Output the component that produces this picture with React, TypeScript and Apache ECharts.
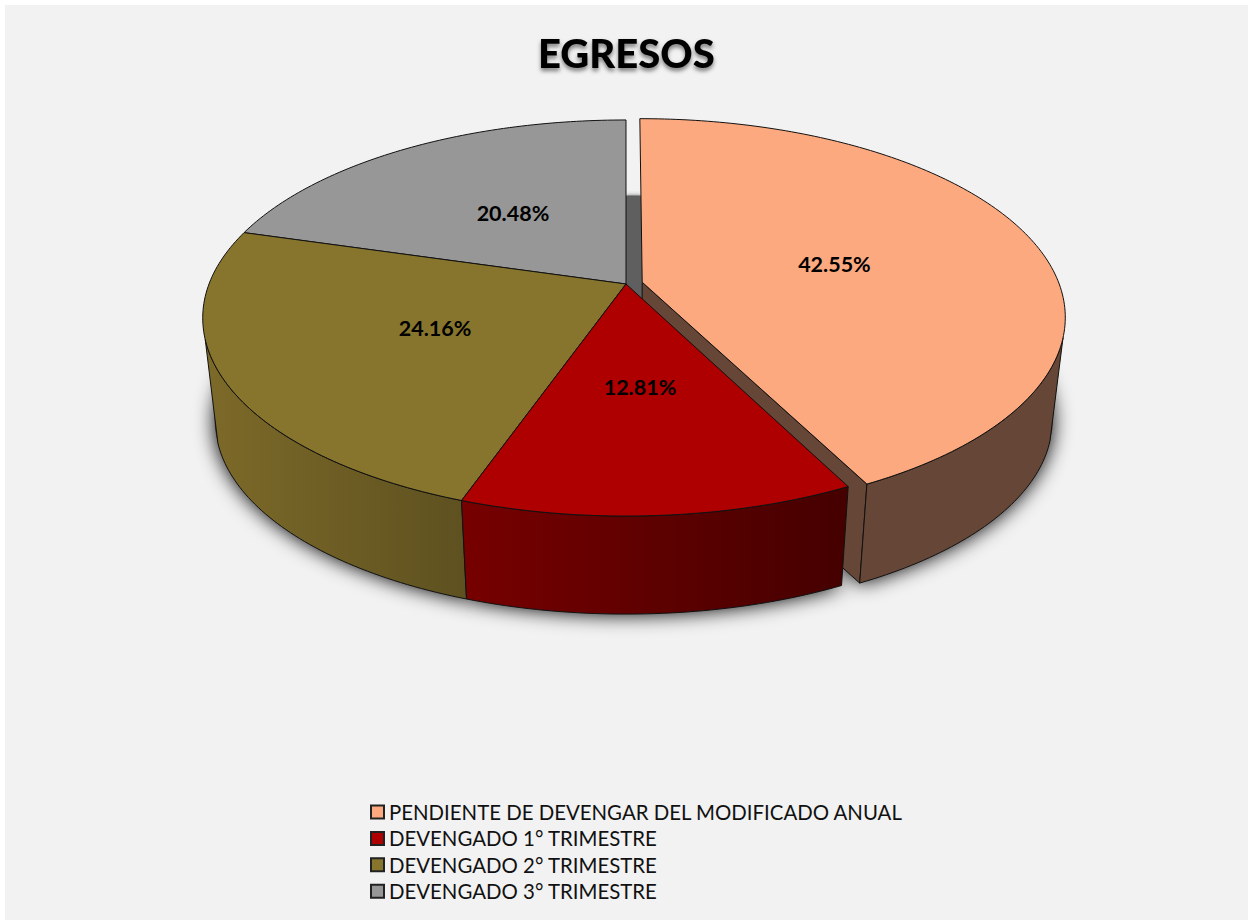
import React, { useEffect, useRef } from "react";
import * as echarts from "echarts";

const categories = [
  "PENDIENTE DE DEVENGAR DEL MODIFICADO ANUAL",
  "DEVENGADO 1° TRIMESTRE",
  "DEVENGADO 2° TRIMESTRE",
  "DEVENGADO 3° TRIMESTRE",
];
const shares = [42.55, 12.81, 24.16, 20.48];
const labels = ["42.55%", "12.81%", "24.16%", "20.48%"];
const topColors = ["#fda97f", "#ae0000", "#87752d", "#979797"];
const wallFrom = ["#664636", "#770000", "#7d6a29", "#5f5f5f"];
const wallTo = ["#664636", "#450000", "#5e5120", "#5f5f5f"];
const explode = [0.04, 0, 0, 0];
const labelNudge = [[-6, 4], [-1, -2], [2, -2], [4, 1]];

// perspective model of the pie's plane
const CX = 626;
const CY = 284;
const A = 417;
const B = 192.2;
const K = 0.1717;
const LOWER_CY = 389;
const LOWER_S = 0.97;
const SHADOW_CY = 386;
const SHADOW_S = 0.972;
const WALL_START = 106;
const WALL_END = 254;
const rad = (d: number) => (d * Math.PI) / 180;

type P = [number, number];
function plane(u: number, v: number, s: number, cy: number): P {
  const q = 1 - K * v;
  return [CX + (s * A * u) / q, cy + (s * B * v) / q];
}
function project(u: number, v: number, lower = false): P {
  return lower ? plane(u, v, LOWER_S, LOWER_CY) : plane(u, v, 1, CY);
}
function sliceRange(i: number): [number, number] {
  const total = shares.reduce((a, b) => a + b, 0);
  let acc = 0;
  for (let k = 0; k < i; k++) acc += shares[k];
  return [(acc / total) * 360, ((acc + shares[i]) / total) * 360];
}
function offset(i: number): P {
  const [a0, a1] = sliceRange(i);
  const m = rad((a0 + a1) / 2);
  return [explode[i] * Math.sin(m), -explode[i] * Math.cos(m)];
}
function rim(i: number, deg: number, lower = false): P {
  const [du, dv] = offset(i);
  return project(du + Math.sin(rad(deg)), dv - Math.cos(rad(deg)), lower);
}
function arc(i: number, a0: number, a1: number, lower = false): P[] {
  const out: P[] = [];
  const n = Math.max(2, Math.ceil(Math.abs(a1 - a0)));
  for (let j = 0; j <= n; j++) out.push(rim(i, a0 + ((a1 - a0) * j) / n, lower));
  return out;
}

const LINE = "#111111";
function poly(points: P[], fill: any, stroke = LINE, lineWidth = 1) {
  return {
    type: "polygon",
    shape: { points },
    style: { fill, stroke, lineWidth, lineJoin: "round" },
  };
}

function renderSlice(i: number) {
  return () => {
    const [a0, a1] = sliceRange(i);
    const [du, dv] = offset(i);
    const children: any[] = [];
    if (explode[i] > 0) {
      // the cut face visible through the gap
      children.push(
        poly(
          [project(du, dv), rim(i, a1), rim(i, a1, true), project(du, dv, true)],
          wallFrom[i],
        ),
      );
    }
    const w0 = Math.max(a0, WALL_START);
    const w1 = Math.min(a1, WALL_END);
    if (w1 > w0) {
      children.push(
        poly(
          [...arc(i, w0, w1), ...arc(i, w1, w0, true)],
          new echarts.graphic.LinearGradient(0, 0, 1, 0, [
            { offset: 0, color: wallFrom[i] },
            { offset: 1, color: wallTo[i] },
          ]),
        ),
      );
    }
    children.push(poly([project(du, dv), ...arc(i, a0, a1)], topColors[i]));
    const m = rad((a0 + a1) / 2);
    const [lx, ly] = project(du + 0.5 * Math.sin(m), dv - 0.5 * Math.cos(m));
    children.push({
      type: "text",
      style: {
        text: labels[i],
        x: lx + labelNudge[i][0],
        y: ly + labelNudge[i][1],
        align: "center",
        verticalAlign: "middle",
        fill: "#000",
        font: "bold 21.5px Lato",
      },
    });
    return { type: "group", children };
  };
}

function renderShadow() {
  const wedges = categories.map((_, i) => {
    const [a0, a1] = sliceRange(i);
    const [du, dv] = offset(i);
    const pts: P[] = [plane(du, dv, SHADOW_S, SHADOW_CY)];
    for (let d = a0; d <= a1 + 0.001; d += (a1 - a0) / 40) {
      pts.push(
        plane(du + Math.sin(rad(d)), dv - Math.cos(rad(d)), SHADOW_S, SHADOW_CY),
      );
    }
    return {
      type: "polygon",
      shape: { points: pts },
      style: {
        fill: "#333",
        shadowColor: "rgba(0,0,0,1)",
        shadowBlur: 20,
        shadowOffsetY: 3,
      },
    };
  });
  const gap = [project(0, -0.5), project(0.04, -0.5), project(0.04, 0.1), project(0, 0.1)];
  return {
    type: "group",
    children: [
      ...wedges,
      {
        type: "polygon",
        shape: { points: gap },
        style: {
          fill: "#5f5f5f",
          shadowColor: "rgba(60,60,60,0.7)",
          shadowBlur: 4,
        },
      },
    ],
  };
}

const drawOrder = [0, 3, 2, 1];

export default function App() {
  const ref = useRef<HTMLDivElement>(null);
  useEffect(() => {
    document.body.style.margin = "0";
    const chart = echarts.init(ref.current!, undefined, { renderer: "svg" });
    chart.setOption({
      animation: false,
      backgroundColor: "#ffffff",
      graphic: [
        {
          type: "rect",
          z: -10,
          shape: { x: 5, y: 5, width: 1243, height: 915 },
          style: { fill: "#f2f2f2" },
        },
      ],
      title: {
        text: "EGRESOS",
        left: 533,
        top: 28,
        textStyle: {
          fontFamily: "Lato",
          fontWeight: 900,
          fontSize: 40,
          color: "#000",
          textShadowColor: "rgba(0,0,0,0.5)",
          textShadowBlur: 4,
          textShadowOffsetY: 3,
        },
      },
      legend: {
        orient: "vertical",
        left: 365,
        top: 797,
        itemWidth: 13,
        itemHeight: 13,
        itemGap: 6.4,
        icon: "rect",
        selectedMode: false,
        data: categories,
        textStyle: { fontFamily: "Lato", fontSize: 20.4, color: "#111" },
      },
      series: [
        {
          type: "custom",
          name: "sombra",
          coordinateSystem: "none",
          z: 1,
          silent: true,
          data: [[0]],
          renderItem: renderShadow,
        },
        ...categories.map((name, i) => ({
          type: "custom",
          name,
          coordinateSystem: "none",
          z: 2 + drawOrder.indexOf(i),
          silent: true,
          itemStyle: { color: topColors[i], borderColor: "#222", borderWidth: 1.5 },
          data: [[shares[i]]],
          renderItem: renderSlice(i),
        })),
      ],
    });
    return () => chart.dispose();
  }, []);
  return <div ref={ref} style={{ width: 1248, height: 920 }} />;
}
